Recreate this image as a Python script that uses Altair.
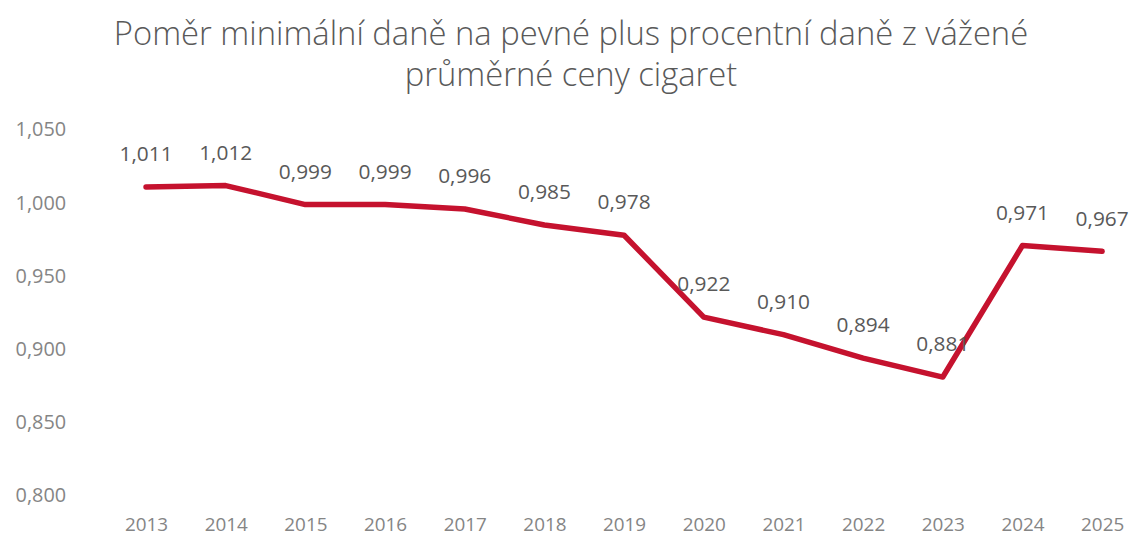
import altair as alt
import pandas as pd

years = [2013, 2014, 2015, 2016, 2017, 2018, 2019, 2020, 2021, 2022, 2023, 2024, 2025]
ratios = [1.011, 1.012, 0.999, 0.999, 0.996, 0.985, 0.978, 0.922, 0.910, 0.894, 0.881, 0.971, 0.967]
y_ticks = [0.800, 0.850, 0.900, 0.950, 1.000, 1.050]

df = pd.DataFrame({"year": years, "ratio": ratios})

FONT = "Open Sans"
GRAY = "#858585"
RED = "#C5122E"

x = alt.X("year:Q", scale=alt.Scale(domain=[2012.165, 2025.30], nice=False, zero=False),
          axis=alt.Axis(values=years, format="d", title=None, labelFontSize=19,
                        grid=False, domain=False, ticks=False,
                        labelColor=GRAY, labelFont=FONT, labelPadding=20))
y = alt.Y("ratio:Q", scale=alt.Scale(domain=[0.8, 1.05], nice=False, zero=False),
          axis=alt.Axis(values=y_ticks, title=None, grid=False, domain=False, ticks=False,
                        labelExpr="replace(format(datum.value, '.3f'), '.', ',')",
                        labelFontSize=20, labelColor=GRAY, labelFont=FONT, labelPadding=14))

line = alt.Chart(df).mark_line(color=RED, strokeWidth=5.5, strokeJoin="round", strokeCap="round").encode(x=x, y=y)

labels = alt.Chart(df).transform_calculate(
    lbl="replace(format(datum.ratio, '.3f'), '.', ',')"
).mark_text(dy=-32, fontSize=21, color="#595959", font=FONT).encode(
    x=x, y=y, text="lbl:N"
)

chart = (line + labels).properties(
    width=1054, height=368,
    background="white",
    autosize=alt.AutoSizeParams(type="none"),
    padding={"left": 72, "top": 121, "right": 8, "bottom": 43},
    title=alt.TitleParams(
        text=["Poměr minimální daně na pevné plus procentní daně z vážené",
              "průměrné ceny cigaret"],
        fontSize=33, font=FONT, fontWeight=300, color="#595959",
        anchor="middle", dx=-32, lineHeight=42, offset=27,
    ),
).configure_view(strokeWidth=0, stroke="transparent").configure_axis(
    domain=False, ticks=False, grid=False
)

chart.save("out.html", embed_options={"renderer": "svg", "actions": False})
